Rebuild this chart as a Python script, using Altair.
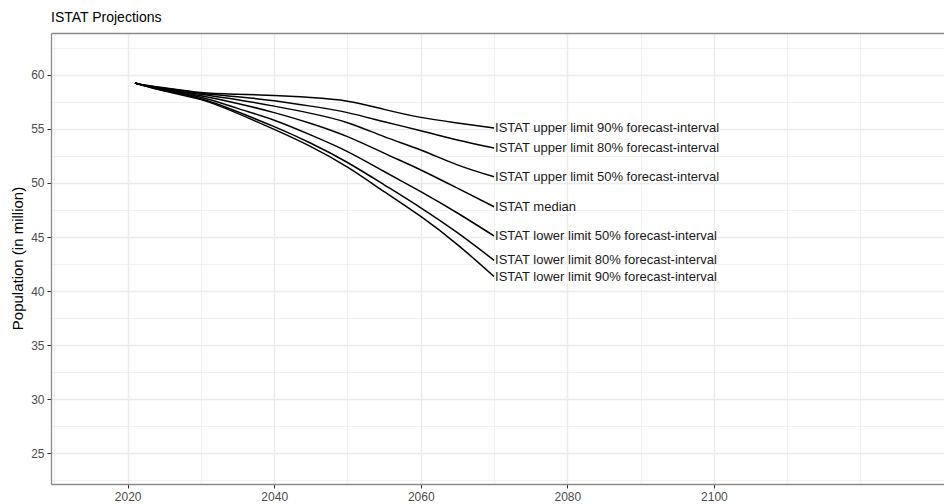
import altair as alt
import pandas as pd

years = [2021, 2022, 2025, 2030, 2035, 2040, 2045, 2050, 2055, 2060, 2065, 2070]

series_names = [
    "ISTAT upper limit 90% forecast-interval",
    "ISTAT upper limit 80% forecast-interval",
    "ISTAT upper limit 50% forecast-interval",
    "ISTAT median",
    "ISTAT lower limit 50% forecast-interval",
    "ISTAT lower limit 80% forecast-interval",
    "ISTAT lower limit 90% forecast-interval",
]

upper90 = [59.24, 59.07, 58.80, 58.36, 58.20, 58.08, 57.90, 57.56, 56.80, 56.06, 55.55, 55.07]
upper80 = [59.24, 59.07, 58.76, 58.29, 57.96, 57.60, 57.10, 56.50, 55.66, 54.83, 53.97, 53.22]
upper50 = [59.24, 59.06, 58.72, 58.19, 57.70, 57.10, 56.43, 55.57, 54.28, 53.05, 51.67, 50.57]
median = [59.24, 59.06, 58.67, 58.06, 57.35, 56.50, 55.50, 54.28, 52.75, 51.20, 49.52, 47.80]
lower50 = [59.24, 59.05, 58.60, 57.92, 56.89, 55.80, 54.43, 52.90, 51.06, 49.20, 47.22, 45.10]
lower80 = [59.24, 59.05, 58.54, 57.78, 56.58, 55.20, 53.67, 51.89, 49.83, 47.70, 45.40, 42.85]
lower90 = [59.24, 59.04, 58.50, 57.70, 56.43, 54.95, 53.36, 51.46, 49.20, 46.90, 44.30, 41.35]

all_series = [upper90, upper80, upper50, median, lower50, lower80, lower90]

x_ticks = list(range(2010, 2121, 10))
y_ticks = [22.5 + 2.5 * i for i in range(17)]

rows = []
for name, vals in zip(series_names, all_series):
    for yr, v in zip(years, vals):
        rows.append({"series": name, "year": yr, "pop": v})
df = pd.DataFrame(rows)

lab = pd.DataFrame({
    "series": series_names,
    "year": [years[-1]] * len(series_names),
    "pop": [s[-1] for s in all_series],
})

FONT = "Liberation Sans"
BORDER = "#8a8a8a"
GRID = "#EBEBEB"

xscale = alt.Scale(domain=[2009.54, 2131.4], nice=False, zero=False)
yscale = alt.Scale(domain=[22.17, 63.86], nice=False, zero=False)

MAJOR_X = "datum.value % 20 === 0 && datum.value <= 2100"

x_axis = alt.Axis(
    values=x_ticks, title=None, format="d",
    labelExpr="(datum.value % 20 === 0 && datum.value <= 2100) ? datum.label : ''",
    labelFontSize=12, labelColor="#4D4D4D", labelFont=FONT,
    labelPadding=3, labelFlush=False, labelOverlap=False,
    tickSize=4, tickColor="#333333", tickWidth=1,
    tickOpacity={"condition": {"test": MAJOR_X, "value": 1}, "value": 0},
    grid=True, gridColor=GRID,
    gridWidth={"condition": {"test": MAJOR_X, "value": 1.4}, "value": 0.7},
    domainColor=BORDER, domainWidth=1.3,
)

y_axis = alt.Axis(
    values=y_ticks, title="Population (in million)", format="d",
    labelExpr="datum.value % 5 === 0 ? datum.label : ''",
    labelFontSize=12, labelColor="#4D4D4D", labelFont=FONT,
    labelPadding=3, labelFlush=False, labelOverlap=False,
    tickSize=4, tickColor="#333333", tickWidth=1,
    tickOpacity={"condition": {"test": "datum.value % 5 === 0", "value": 1}, "value": 0},
    grid=True, gridColor=GRID,
    gridWidth={"condition": {"test": "datum.value % 5 === 0", "value": 1.4}, "value": 0.7},
    domainColor=BORDER, domainWidth=1.3,
    titleFont=FONT, titleFontSize=15, titleFontWeight="normal", titleColor="black",
    titleAngle=270, titleX=-34, titleY=225, titleAlign="center", titleBaseline="middle",
)

lines = alt.Chart(df).mark_line(
    color="black", strokeWidth=1.5, interpolate="natural"
).encode(
    x=alt.X("year:Q", scale=xscale, axis=x_axis),
    y=alt.Y("pop:Q", scale=yscale, axis=y_axis),
    detail="series:N",
)

labels = alt.Chart(lab).mark_text(
    align="left", baseline="middle", dx=1, fontSize=13, font=FONT, color="#1a1a1a"
).encode(
    x=alt.X("year:Q", scale=xscale,
            axis=alt.Axis(orient="top", labels=False, ticks=False, grid=False,
                          title=None, domainColor=BORDER, domainWidth=1.3)),
    y=alt.Y("pop:Q", scale=yscale, axis=y_axis),
    text="series:N",
)

chart = alt.layer(lines, labels).resolve_axis(x="independent").properties(
    width=893,
    height=451,
    autosize=alt.AutoSizeParams(type="none"),
    padding={"left": 43, "top": 25, "right": 0, "bottom": 20},
    title=alt.TitleParams(
        "ISTAT Projections", anchor="start", frame="group", fontSize=14,
        fontWeight="normal", color="black", font=FONT, offset=8,
    ),
).configure_view(stroke=None).configure(background="white")

chart.save("out.html", embed_options={"renderer": "svg", "actions": False})
